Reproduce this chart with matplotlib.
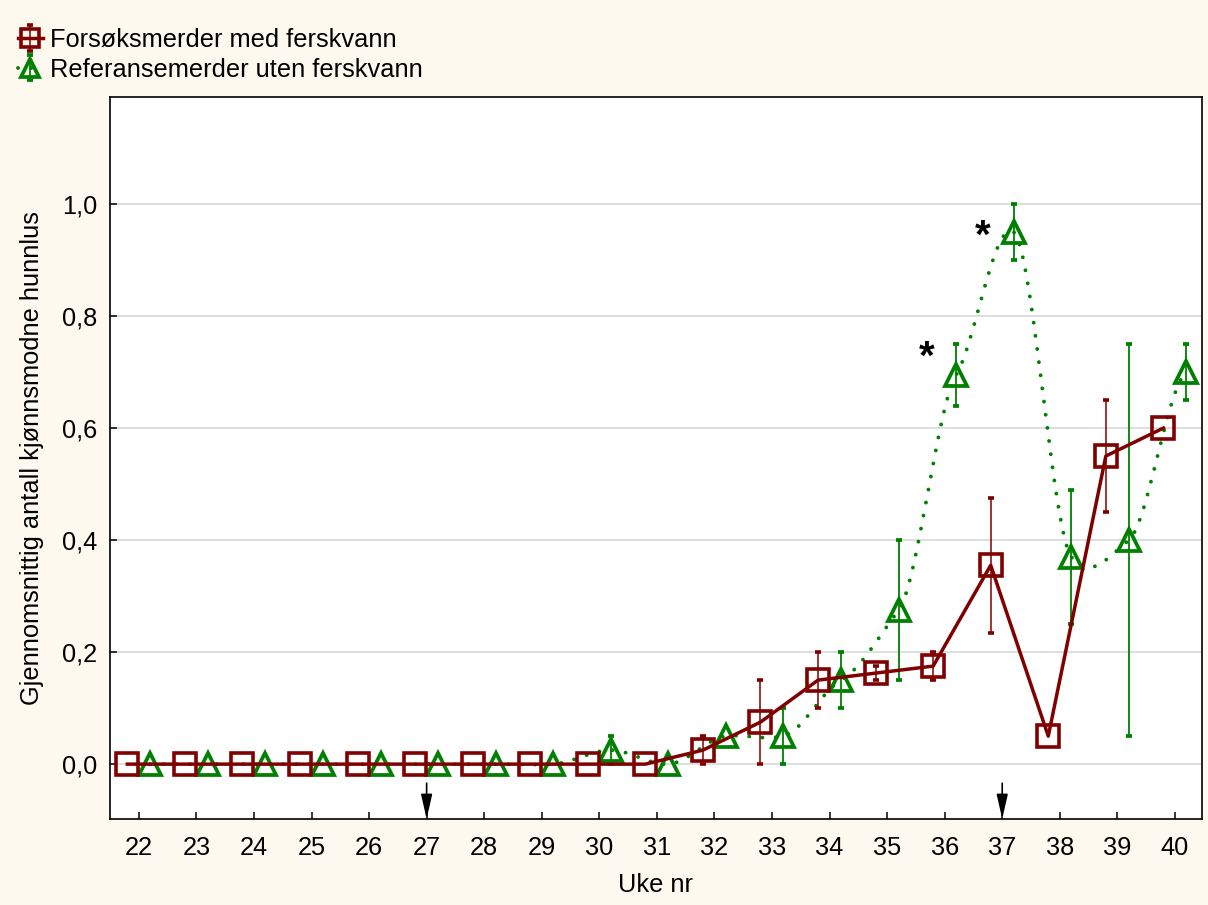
import numpy as np
import matplotlib
matplotlib.use("Agg")
import matplotlib.pyplot as plt

# Weekly means and half-ranges of sexually mature female lice
weeks = [22, 23, 24, 25, 26, 27, 28, 29, 30, 31, 32, 33, 34, 35, 36, 37, 38, 39, 40]

fresh_mean = [0, 0, 0, 0, 0, 0, 0, 0, 0, 0,
              0.025, 0.075, 0.15, 0.1625, 0.175, 0.355, 0.05, 0.55, 0.60]
fresh_err = [0, 0, 0, 0, 0, 0, 0, 0, 0, 0,
             0.025, 0.075, 0.05, 0.0125, 0.025, 0.12, 0, 0.10, 0]

ref_mean = [0, 0, 0, 0, 0, 0, 0, 0, 0.025, 0,
            0.05, 0.05, 0.15, 0.275, 0.695, 0.95, 0.37, 0.40, 0.70]
ref_err = [0, 0, 0, 0, 0, 0, 0, 0, 0.025, 0,
           0, 0.05, 0.05, 0.125, 0.055, 0.05, 0.12, 0.35, 0.05]

series_labels = ["Forsøksmerder med ferskvann", "Referansemerder uten ferskvann"]
ytick_values = [0.0, 0.2, 0.4, 0.6, 0.8, 1.0]
ytick_labels = ["0,0", "0,2", "0,4", "0,6", "0,8", "1,0"]
arrow_weeks = [27, 37]
star_points = [(35.69, 0.726), (36.66, 0.941)]

RED = "#800000"
GREEN = "#008000"
BG = "#fdf9ee"
FS = 18.3

plt.rcParams["font.family"] = ["Liberation Sans", "DejaVu Sans"]


def cardinal_spline(x, y, tension=0.5, n=24):
    """Piecewise cubic Hermite curve through (x, y) with cardinal tangents."""
    x = np.asarray(x, float)
    y = np.asarray(y, float)
    k = (1.0 - tension)
    xs, ys = [], []
    for i in range(len(x) - 1):
        p0 = y[i - 1] if i > 0 else y[i]
        p1, p2 = y[i], y[i + 1]
        p3 = y[i + 2] if i + 2 < len(y) else y[i + 1]
        m1 = k * (p2 - p0) / 2.0
        m2 = k * (p3 - p1) / 2.0
        t = np.linspace(0, 1, n, endpoint=(i == len(x) - 2))
        h00 = 2 * t ** 3 - 3 * t ** 2 + 1
        h10 = t ** 3 - 2 * t ** 2 + t
        h01 = -2 * t ** 3 + 3 * t ** 2
        h11 = t ** 3 - t ** 2
        xs.append(x[i] + t * (x[i + 1] - x[i]))
        ys.append(h00 * p1 + h10 * m1 + h01 * p2 + h11 * m2)
    return np.concatenate(xs), np.concatenate(ys)


fig = plt.figure(figsize=(12.08, 9.05), dpi=100, facecolor=BG)
ax = fig.add_axes([0.0911, 0.0950, 0.9039, 0.7978])
ax.set_facecolor("white")

w = np.array(weeks, float)
x_fresh = w - 0.2
x_ref = w + 0.2

fe = np.array(fresh_err, float)
re = np.array(ref_err, float)
fe = np.where(fe > 0, fe, np.nan)
re = np.where(re > 0, re, np.nan)

DOTS = (0, (0.01, 3.4))

# smooth dotted curve for the reference pens
sx, sy = cardinal_spline(x_ref, ref_mean, tension=0.5)
ax.plot(sx, sy, color=GREEN, lw=2.8, linestyle=DOTS,
        dash_capstyle="round", zorder=3)

ref_cont = ax.errorbar(x_ref, ref_mean, yerr=re, fmt="^", color=GREEN,
                       ms=16, mfc="none", mec=GREEN, mew=2.7,
                       lw=2.8, linestyle=DOTS, dash_capstyle="round",
                       ecolor=GREEN, elinewidth=1.3, capsize=2.2, capthick=1.3,
                       zorder=4, label=series_labels[1])

fresh_cont = ax.errorbar(x_fresh, fresh_mean, yerr=fe, fmt="s-", color=RED,
                         ms=15.5, mfc="none", mec=RED, mew=2.6, lw=2.5,
                         ecolor=RED, elinewidth=1.1, capsize=2.0, capthick=1.1,
                         zorder=5, label=series_labels[0])

leg = fig.legend(handles=[fresh_cont, ref_cont], labels=series_labels,
                 loc="upper left", bbox_to_anchor=(0.0145, 0.969),
                 frameon=False, fontsize=FS, handlelength=1.0,
                 handletextpad=0.28, labelspacing=0.22, borderaxespad=0,
                 borderpad=0, markerscale=0.85)

# the reference curve is drawn separately, keep only its markers here
ref_cont[0].set_linestyle("None")

ax.set_xlim(21.5, 40.47)
ax.set_ylim(-0.098, 1.191)
ax.set_xticks(weeks)
ax.set_xticklabels([str(v) for v in weeks])
ax.set_yticks(ytick_values)
ax.set_yticklabels(ytick_labels)
ax.tick_params(axis="both", direction="in", length=5, width=1.1,
               labelsize=FS, colors="black")
ax.tick_params(axis="x", pad=12)
ax.tick_params(axis="y", pad=9)
ax.yaxis.grid(True, color="#d8d8d8", lw=1.2, zorder=0)
ax.set_axisbelow(True)
for s in ax.spines.values():
    s.set_linewidth(1.2)
    s.set_color("black")

ylo = ax.get_ylim()[0]
for wk in arrow_weeks:
    ax.annotate("", xy=(wk, ylo), xytext=(wk, -0.034),
                arrowprops=dict(arrowstyle="-|>,head_length=0.75,head_width=0.17",
                                color="black", lw=1.2, shrinkA=0, shrinkB=0,
                                mutation_scale=20),
                zorder=6)

for (sxp, syp) in star_points:
    ax.text(sxp, syp, "*", fontsize=29, fontweight="bold", color="black",
            ha="center", va="center", zorder=6)

fig.text(32 / 1208, 1 - 458 / 905, "Gjennomsnittig antall kjønnsmodne hunnlus",
         rotation=90, ha="center", va="center", fontsize=FS)
fig.text(655 / 1208, 1 - 885 / 905, "Uke nr", ha="center", va="center", fontsize=FS)

fig.savefig("out.png", dpi=100, facecolor=BG)
